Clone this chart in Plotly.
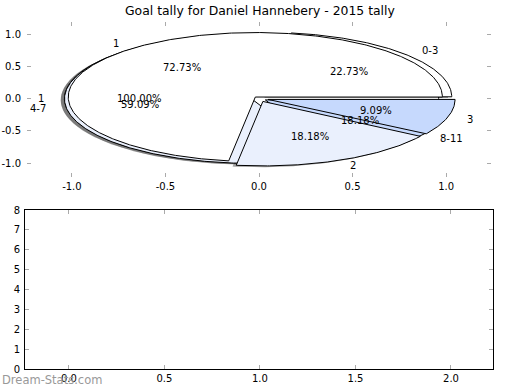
import numpy as np
import plotly.graph_objects as go

# ---- data ----
title_text = "Goal tally for Daniel Hannebery - 2015 tally"
season_labels = ["1"]
season_values = [22]
goal_labels = ["1", "2", "3"]
goal_values = [16, 4, 2]
quarter_labels = ["0-3", "4-7", "8-11"]
quarter_values = [5, 13, 4]
pie_ticks = [-1.0, -0.5, 0.0, 0.5, 1.0]
bar_xticks = [0.0, 0.5, 1.0, 1.5, 2.0]
bar_yticks = [0, 1, 2, 3, 4, 5, 6, 7, 8]

# ---- styles ----
slice_colors = ["#ffffff", "#eaf0fd", "#c6d9fd"]
season_explode = [0.04]
goal_explode = [0.03, 0.05, 0.05]
quarter_explode = [0.04, 0.04, 0.04]
FONT = "DejaVu Sans"


def wedges(values, explode, radius=1.0):
    total = float(sum(values))
    t1 = 0.0
    out = []
    for v, e in zip(values, explode):
        frac = v / total
        t2 = t1 + 360.0 * frac
        mid = np.radians((t1 + t2) / 2.0)
        cx, cy = e * np.cos(mid), e * np.sin(mid)
        n = max(int(abs(t2 - t1) * 2), 6)
        t = np.radians(np.linspace(t1, t2, n))
        xs = cx + radius * np.cos(t)
        ys = cy + radius * np.sin(t)
        if frac < 0.9999:
            xs = np.concatenate([[cx], xs, [cx]])
            ys = np.concatenate([[cy], ys, [cy]])
        out.append(dict(xs=xs, ys=ys, cx=cx, cy=cy, mid=mid, frac=frac))
        t1 = t2
    return out


pies = [
    (season_labels, wedges(season_values, season_explode)),
    (quarter_labels, wedges(quarter_values, quarter_explode)),
    (goal_labels, wedges(goal_values, goal_explode)),
]

fig = go.Figure()

# shadows first
for labels, ws in pies:
    for w in ws:
        fig.add_trace(go.Scatter(
            x=w["xs"] - 0.02, y=w["ys"] - 0.02, mode="lines", fill="toself",
            fillcolor="rgba(77,77,77,0.5)", line=dict(width=0),
            hoverinfo="skip", showlegend=False, xaxis="x", yaxis="y"))

annotations = []
for labels, ws in pies:
    for i, w in enumerate(ws):
        fig.add_trace(go.Scatter(
            x=w["xs"], y=w["ys"], mode="lines", fill="toself",
            fillcolor=slice_colors[i % len(slice_colors)],
            line=dict(color="black", width=1),
            hoverinfo="skip", showlegend=False, xaxis="x", yaxis="y"))

for labels, ws in pies:
    for lab, w in zip(labels, ws):
        lx = w["cx"] + 1.1 * np.cos(w["mid"])
        ly = w["cy"] + 1.1 * np.sin(w["mid"])
        annotations.append(dict(
            x=lx, y=ly, xref="x", yref="y", text=lab, showarrow=False,
            xanchor="left" if lx > 0 else "right", yanchor="middle",
            font=dict(family=FONT, size=10, color="black")))
        px = w["cx"] + 0.6 * np.cos(w["mid"])
        py = w["cy"] + 0.6 * np.sin(w["mid"])
        annotations.append(dict(
            x=px, y=py, xref="x", yref="y", text="%.2f%%" % (w["frac"] * 100),
            showarrow=False, xanchor="center", yanchor="middle",
            font=dict(family=FONT, size=10, color="black")))

# empty lower axes
fig.add_trace(go.Scatter(x=[], y=[], xaxis="x2", yaxis="y2", showlegend=False))

annotations.append(dict(
    x=0.5, y=1 - 10 / 390, xref="paper", yref="paper", text=title_text,
    showarrow=False, xanchor="center", yanchor="middle",
    font=dict(family=FONT, size=12.4, color="black")))
annotations.append(dict(
    x=0.0, y=1 - 380 / 390, xref="paper", yref="paper", text="Dream-Stats.com",
    showarrow=False, xanchor="left", yanchor="middle",
    font=dict(family=FONT, size=11.5, color="#999999")))

tick_common = dict(
    showgrid=False, zeroline=False, ticks="inside", ticklen=4, tickwidth=1,
    tickcolor="#aaaaaa", tickfont=dict(family=FONT, size=10, color="black"),
    automargin=False, fixedrange=True)

pie_ticktext = ["%.1f" % v for v in pie_ticks]
bar_xticktext = ["%.1f" % v for v in bar_xticks]

fig.update_layout(
    width=520, height=390, margin=dict(l=0, r=0, t=0, b=0),
    paper_bgcolor="white", plot_bgcolor="white",
    font=dict(family=FONT, size=10, color="black"),
    showlegend=False,
    annotations=annotations,
    xaxis=dict(domain=[27 / 520, 491 / 520], range=[-1.24, 1.24], anchor="y",
               showline=False, mirror="ticks", tickvals=pie_ticks,
               ticktext=pie_ticktext, ticklabelstandoff=2, **tick_common),
    yaxis=dict(domain=[1 - 177 / 390, 1 - 22 / 390], range=[-1.217, 1.186],
               anchor="x", showline=False, mirror="ticks", tickvals=pie_ticks,
               ticktext=pie_ticktext, ticklabelstandoff=5, **tick_common),
    xaxis2=dict(domain=[25 / 520, 493 / 520], range=[-0.23, 2.22], anchor="y2",
                showline=True, linecolor="black", linewidth=1, mirror="ticks",
                tickvals=bar_xticks, ticktext=bar_xticktext, **tick_common),
    yaxis2=dict(domain=[1 - 369 / 390, 1 - 210 / 390], range=[0, 8], anchor="x2",
                showline=True, linecolor="black", linewidth=1, mirror="ticks",
                tickvals=bar_yticks, ticklabelstandoff=2, **tick_common),
)

fig.write_html("out.html", config={"displayModeBar": False},
               post_script="document.body.style.margin='0';document.body.style.overflow='hidden';")
